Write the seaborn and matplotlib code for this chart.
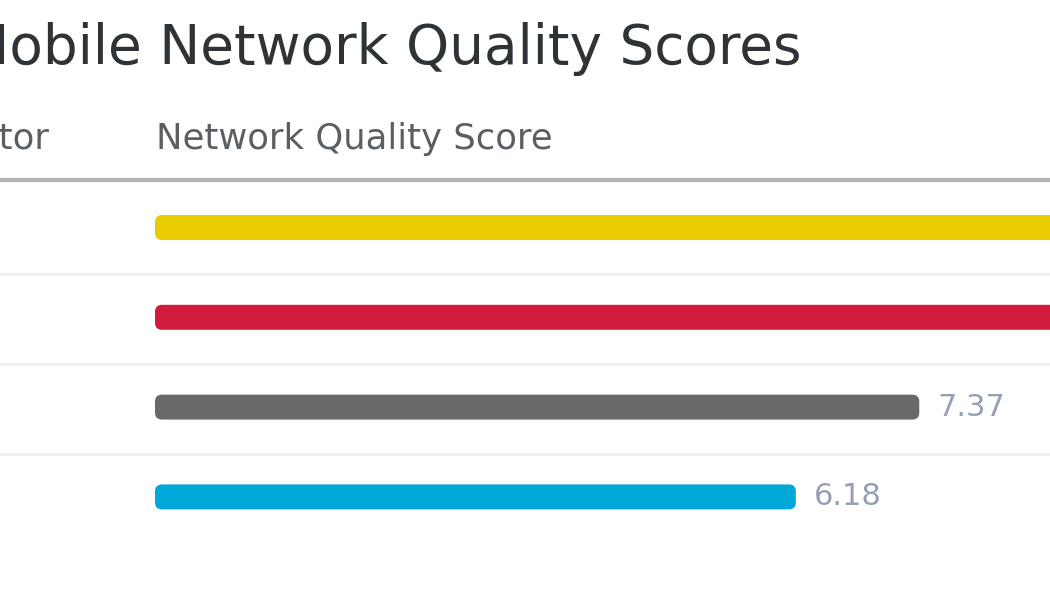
import matplotlib
matplotlib.use("Agg")
import matplotlib.pyplot as plt
from matplotlib.patches import FancyBboxPatch
from matplotlib.lines import Line2D
import pandas as pd
import seaborn as sns

# data (top two bars run past the right edge of the crop, values estimated)
operators = ["MTN", "Vodacom", "Cell C", "Telkom"]
scores = [9.30, 9.05, 7.37, 6.18]
bar_colors = ["#e8cb00", "#d21b3c", "#696969", "#00a8d9"]
title = "Mobile Network Quality Scores"
col_headers = ["Operator", "Network Quality Score"]

df = pd.DataFrame({"operator": operators, "score": scores})

sns.set_theme(style="white")
plt.rcParams["font.family"] = ["DejaVu Sans"]

W, H = 1050, 600
fig = plt.figure(figsize=(W / 100, H / 100), dpi=100)
ax = fig.add_axes([0, 0, 1, 1])

sns.barplot(data=df, x="score", y="operator", hue="operator",
            palette=bar_colors, saturation=1, legend=False,
            width=0.278, ax=ax)

# the reference is a crop: zero sits at 155px, one unit ~103.7px
x0_px, ux = 155, 103.7
y0_px, uy = 227.5, 89.8
ax.set_xlim(-x0_px / ux, (W - x0_px) / ux)
ax.set_ylim((H - y0_px) / uy, -y0_px / uy)
ax.axis("off")

# rounded bars
r_px = 7
for p in list(ax.patches):
    bx, by, bw, bh = p.get_x(), p.get_y(), p.get_width(), p.get_height()
    fc = p.get_facecolor()
    p.remove()
    ax.add_patch(FancyBboxPatch((bx, by), bw, bh,
                                boxstyle=f"round,pad=0,rounding_size={r_px / ux}",
                                mutation_aspect=ux / uy,
                                fc=fc, ec="none", zorder=3))

# row separators
for i in range(len(operators) - 1):
    ax.axhline(i + 0.52, color="#eeeff1", lw=2, zorder=1)

# value labels (only those that land inside the crop)
xmax = ax.get_xlim()[1]
for i, s in enumerate(scores):
    tx = s + 18 / ux
    if tx < xmax - 0.3:
        ax.text(tx, i, f"{s:.2f}", va="center", ha="left",
                fontsize=22, color="#94a1b5")

# header rule
fig.add_artist(Line2D([0, 1], [1 - 180 / H] * 2, color="#b4b4b4", lw=3))

fig.text(802 / W, 1 - 64 / H, title, fontsize=39.5, color="#2e3338",
         va="baseline", ha="right")
fig.text(49 / W, 1 - 149 / H, col_headers[0], fontsize=25.5, color="#5a5f64",
         va="baseline", ha="right")
fig.text(156 / W, 1 - 149 / H, col_headers[1], fontsize=25.5, color="#5a5f64",
         va="baseline", ha="left")

fig.savefig("out.png", dpi=100)
